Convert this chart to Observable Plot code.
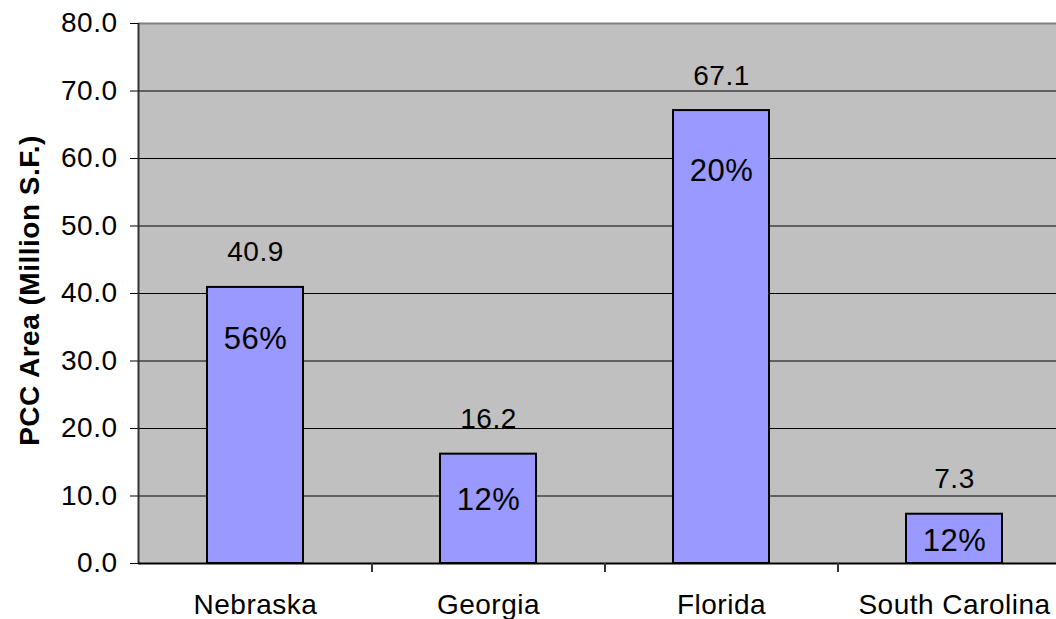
<!DOCTYPE html>
<html>
<head>
<meta charset="utf-8">
<script src="https://cdn.jsdelivr.net/npm/d3@7"></script>
<script src="https://cdn.jsdelivr.net/npm/@observablehq/plot@0.6"></script>
<style>
  html, body { margin: 0; padding: 0; background: #fff; overflow: hidden; }
  #chart svg { display: block; }
</style>
</head>
<body>
<div id="chart"></div>
<script>
// PCC pavement area by state (million square feet) and each state's share label
const states = ["Nebraska", "Georgia", "Florida", "South Carolina"];
const areas = [40.9, 16.2, 67.1, 7.3];
const shares = ["56%", "12%", "20%", "12%"];
const yTicks = [0, 10, 20, 30, 40, 50, 60, 70, 80];
const gridValues = [10, 20, 30, 40, 50, 60, 70];
const yTitle = "PCC Area (Million S.F.)";

const rows = states.map((s, i) => ({state: s, area: areas[i], share: shares[i]}));

// layout
const W = 1056, H = 619;
const mLeft = 138, mTop = 23, mBottom = 56;
const plotRight = 1070;                    // the last category band runs past the page edge
const step = (plotRight - mLeft) / states.length;
const shareDrop = [52, 46, 61, 27];        // how far each share label sits below its bar top (px)
const font = "'Liberation Sans', Arial, sans-serif";

const chart = Plot.plot({
  width: W,
  height: H,
  marginLeft: mLeft,
  marginRight: 0,
  marginTop: mTop,
  marginBottom: mBottom,
  style: {fontFamily: font, fontSize: "28px", color: "#000", letterSpacing: "0.5px", overflow: "visible"},
  x: {domain: states, range: [mLeft, plotRight], paddingInner: 0.59, paddingOuter: 0.295, label: null},
  y: {domain: [0, 80], label: null},
  marks: [
    Plot.frame({fill: "#c0c0c0", stroke: "none"}),
    Plot.ruleY(gridValues, {stroke: "#000", strokeWidth: 1}),
    Plot.ruleY([80], {stroke: "#808080", strokeWidth: 2}),
    Plot.barY(rows, {x: "state", y: "area", fill: "#9999ff", stroke: "#000", strokeWidth: 2}),
    Plot.ruleX([0], {x: () => states[0], dx: -step / 2 - 0.5, stroke: "#333", strokeWidth: 2}),
    Plot.ruleY([0], {stroke: "#000", strokeWidth: 2}),
    // category boundary ticks below the baseline
    Plot.ruleX(states, {x: d => d, dx: step / 2, y1: 0, y2: 0, insetBottom: -9, stroke: "#333", strokeWidth: 2}),
    Plot.axisY({ticks: yTicks, tickFormat: d3.format(".1f"), tickSize: 8, tickPadding: 13, fontSize: 28, stroke: "#000"}),
    Plot.axisX({tickSize: 0, tickPadding: 31, fontSize: 28}),
    Plot.text(rows, {x: "state", y: "area", text: d => d.area.toFixed(1), lineAnchor: "bottom", dy: -26, fontSize: 28, fill: "#000"}),
    ...rows.map((r, i) => Plot.text([r], {x: "state", y: "area", text: "share", lineAnchor: "middle", dy: shareDrop[i], fontSize: 31, fill: "#000"})),
    Plot.text([yTitle], {frameAnchor: "left", textAnchor: "middle", dx: -108, dy: -3, rotate: -90, fontSize: 28, fontWeight: "bold", fill: "#000", letterSpacing: "1.9px"})
  ]
});

document.getElementById("chart").appendChild(chart);
</script>
</body>
</html>
